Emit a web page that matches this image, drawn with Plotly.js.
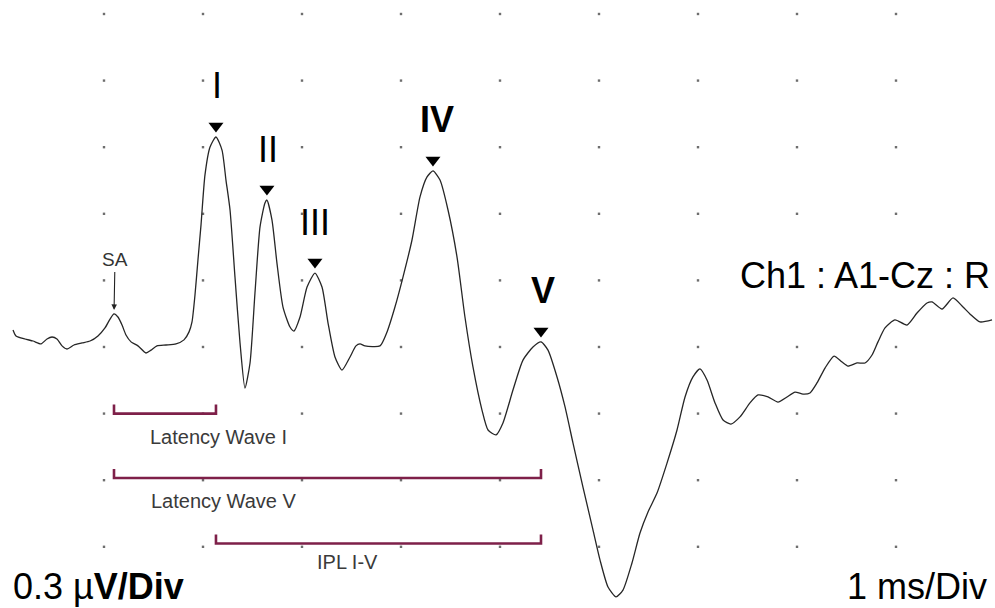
<!DOCTYPE html>
<html>
<head>
<meta charset="utf-8">
<script src="https://cdn.plot.ly/plotly-3.0.1.min.js"></script>
<style>
  html, body { margin: 0; padding: 0; background: #fff; }
  #abr { width: 995px; height: 608px; }
</style>
</head>
<body>
<div id="abr"></div>
<script>
// ABR recording, channel 1 (A1-Cz), right ear. Time in ms, amplitude in µV.
const timeMs = [
  0.081, 0.111, 0.202, 0.283, 0.364, 0.424, 0.475, 0.525, 0.576, 0.626,
  0.697, 0.778, 0.859, 0.939, 1.010, 1.061, 1.101, 1.141, 1.182, 1.222,
  1.273, 1.343, 1.424, 1.475, 1.535, 1.626, 1.727, 1.808, 1.859, 1.889,
  1.919, 1.949, 1.980, 2.020, 2.071, 2.131, 2.192, 2.232, 2.273, 2.323,
  2.374, 2.424, 2.475, 2.525, 2.576, 2.626, 2.646, 2.697, 2.747, 2.808,
  2.879, 2.919, 2.980, 3.051, 3.131, 3.202, 3.263, 3.333, 3.404, 3.485,
  3.545, 3.586, 3.636, 3.788, 3.859, 3.939, 4.020, 4.111, 4.192, 4.263,
  4.323, 4.394, 4.475, 4.566, 4.646, 4.727, 4.818, 4.879, 4.960, 5.030,
  5.131, 5.232, 5.333, 5.414, 5.485, 5.576, 5.657, 5.737, 5.838, 5.939,
  6.010, 6.091, 6.172, 6.242, 6.333, 6.414, 6.495, 6.586, 6.687, 6.788,
  6.869, 6.949, 7.020, 7.091, 7.172, 7.253, 7.333, 7.424, 7.525, 7.606,
  7.707, 7.808, 7.899, 7.980, 8.061, 8.131, 8.202, 8.283, 8.374, 8.455,
  8.515, 8.606, 8.687, 8.758, 8.818, 8.889, 8.990, 9.111, 9.212, 9.313,
  9.364, 9.465, 9.576, 9.677, 9.747, 9.848, 9.970
];
const amplitudeUv = [
  0.077, 0.050, 0.036, 0.027, 0.014, 0.036, 0.045, 0.036, 0.005, -0.009,
  0.009, 0.018, 0.027, 0.050, 0.086, 0.126, 0.149, 0.135, 0.099, 0.054,
  0.023, 0.005, -0.027, -0.014, 0.005, 0.009, 0.014, 0.032, 0.068, 0.113,
  0.234, 0.392, 0.550, 0.775, 0.901, 0.946, 0.887, 0.752, 0.617, 0.315,
  0.018, -0.185, -0.072, 0.243, 0.541, 0.649, 0.662, 0.572, 0.378, 0.180,
  0.090, 0.072, 0.135, 0.270, 0.333, 0.270, 0.108, -0.045, -0.104, -0.045,
  0.005, 0.014, 0.005, 0.005, 0.068, 0.180, 0.315, 0.482, 0.676, 0.766,
  0.793, 0.752, 0.617, 0.405, 0.135, -0.090, -0.284, -0.374, -0.396, -0.342,
  -0.194, -0.059, 0.000, 0.023, -0.014, -0.135, -0.270, -0.432, -0.631, -0.824,
  -0.959, -1.081, -1.126, -1.095, -0.973, -0.838, -0.743, -0.658, -0.523, -0.374,
  -0.225, -0.135, -0.099, -0.149, -0.252, -0.329, -0.347, -0.315, -0.252, -0.216,
  -0.225, -0.248, -0.225, -0.203, -0.212, -0.207, -0.162, -0.095, -0.041, -0.068,
  -0.086, -0.072, -0.072, -0.036, 0.023, 0.086, 0.122, 0.099, 0.153, 0.198,
  0.203, 0.171, 0.221, 0.180, 0.149, 0.113, 0.122
];

// Marked peaks
const peakNames = ['I', 'II', 'III', 'IV', 'V'];
const peakTimes = [2.131, 2.646, 3.131, 4.323, 5.414];
const peakAmps  = [0.946, 0.662, 0.333, 0.793, 0.023];

// Stimulus artifact
const saTime = 1.101;
const saAmp  = 0.149;

// Display scale
const msPerDiv = 1;
const uvPerDiv = 0.3;

const W = 995, H = 608;
const xRange = [-0.0505, 10.0];
const yRange = [-1.1757, 1.563];
const uvPerPx = (yRange[1] - yRange[0]) / H;

const FONT = '"Liberation Sans", Arial, sans-serif';
const TRACE = '#262626';
const BRACKET = '#7e2049';

// dotted division grid
const gx = [], gy = [];
for (let i = 1; i * msPerDiv < xRange[1] - 0.5; i++) {
  for (let j = -3; j <= 5; j++) {
    gx.push(i * msPerDiv);
    gy.push(j * uvPerDiv);
  }
}

const traces = [
  {
    x: gx, y: gy, mode: 'markers', type: 'scatter', hoverinfo: 'skip',
    marker: { symbol: 'square', size: 2.4, color: '#6e6e6e' }
  },
  {
    x: timeMs, y: amplitudeUv, mode: 'lines', type: 'scatter',
    line: { color: TRACE, width: 1.3, shape: 'spline', smoothing: 0.6 }
  },
  {
    x: peakTimes, y: peakAmps.map(a => a + 11 * uvPerPx),
    mode: 'markers', type: 'scatter',
    marker: { symbol: 'triangle-down', size: 13, color: '#000' }
  }
];

// latency brackets: [start, end, level]
const tI = peakTimes[0], tV = peakTimes[4];
const brackets = [
  [saTime, tI, -0.30],
  [saTime, tV, -0.59],
  [tI, tV, -0.885]
];
const tick = 9 * uvPerPx;
brackets.forEach(b => {
  traces.push({
    x: [b[0], b[0], b[1], b[1]],
    y: [b[2] + tick, b[2], b[2], b[2] + tick],
    mode: 'lines', type: 'scatter',
    line: { color: BRACKET, width: 2.6 }
  });
});

const annotations = [];

// wave labels above each marked peak
const labelBold = [false, false, false, true, true];
const labelShift = [1, 1, 0, 4, 2];
peakNames.forEach((n, i) => {
  annotations.push({
    x: peakTimes[i], y: peakAmps[i], xref: 'x', yref: 'y',
    text: labelBold[i] ? '<b>' + n + '</b>' : n,
    showarrow: false, yshift: 51, xshift: labelShift[i],
    xanchor: 'center', yanchor: 'middle',
    font: { family: FONT, size: 36, color: '#000' }
  });
});

// SA marker with arrow
annotations.push({
  x: saTime, y: saAmp, xref: 'x', yref: 'y',
  text: 'SA', showarrow: true, ax: 1, ay: -54,
  arrowhead: 2, arrowsize: 1, arrowwidth: 1.1, arrowcolor: '#222', standoff: 4,
  font: { family: FONT, size: 19, color: '#333' }
});

// bracket captions
const small = { family: FONT, size: 20, color: '#3a3a3a' };
annotations.push(
  { x: 2.152, y: -0.405, xref: 'x', yref: 'y', text: 'Latency Wave I', showarrow: false, font: small },
  { x: 2.212, y: -0.694, xref: 'x', yref: 'y', text: 'Latency Wave V', showarrow: false, font: small },
  { x: 3.455, y: -0.968, xref: 'x', yref: 'y', text: 'IPL I-V', showarrow: false, font: small }
);

// channel and scale text
const big = { family: FONT, size: 36, color: '#000' };
annotations.push(
  { x: 738 / W, y: 1 - 275 / H, xref: 'paper', yref: 'paper', xanchor: 'left', yanchor: 'middle',
    text: 'Ch1 : A1-Cz : R', showarrow: false, font: big },
  { x: 11 / W, y: 1 - 586 / H, xref: 'paper', yref: 'paper', xanchor: 'left', yanchor: 'middle',
    text: '0.3 µ<b>V/Div</b>', showarrow: false, font: big },
  { x: 989 / W, y: 1 - 586 / H, xref: 'paper', yref: 'paper', xanchor: 'right', yanchor: 'middle',
    text: '1 ms/Div', showarrow: false, font: big }
);

const layout = {
  width: W, height: H,
  margin: { l: 0, r: 0, t: 0, b: 0 },
  paper_bgcolor: '#fff', plot_bgcolor: '#fff',
  showlegend: false,
  xaxis: { range: xRange, visible: false, fixedrange: true },
  yaxis: { range: yRange, visible: false, fixedrange: true },
  annotations: annotations
};

Plotly.newPlot('abr', traces, layout, { staticPlot: true, displayModeBar: false });
</script>
</body>
</html>
